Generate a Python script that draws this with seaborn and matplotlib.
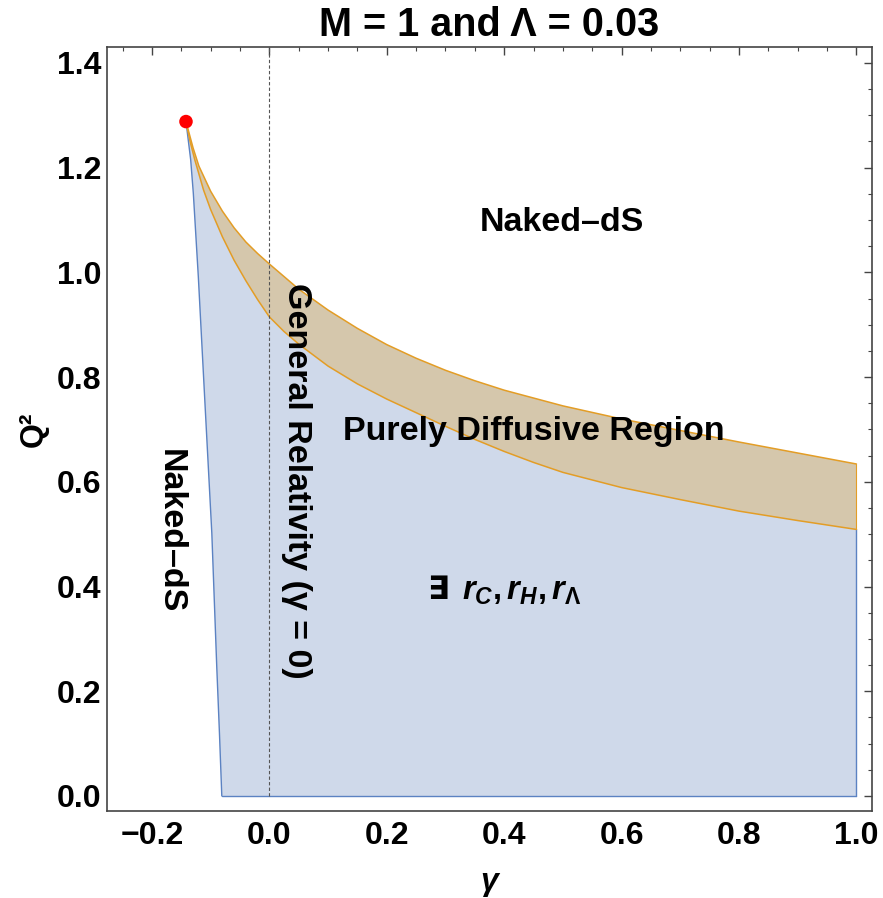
import numpy as np
import pandas as pd
import matplotlib
matplotlib.use("Agg")
import matplotlib.pyplot as plt
import seaborn as sns
from matplotlib.ticker import MultipleLocator

# ---- data ----
upper_gamma = [-0.142, -0.13, -0.12, -0.10, -0.08, -0.06, -0.04, -0.02, 0.0, 0.05, 0.10, 0.15,
               0.20, 0.25, 0.30, 0.35, 0.40, 0.50, 0.60, 0.70, 0.80, 0.90, 1.00]
upper_Q2 = [1.288, 1.238, 1.203, 1.155, 1.117, 1.085, 1.058, 1.036, 1.016, 0.968, 0.928, 0.893,
            0.862, 0.836, 0.813, 0.793, 0.775, 0.745, 0.720, 0.698, 0.676, 0.655, 0.634]

lower_gamma = [-0.142, -0.135, -0.127, -0.112, -0.10, -0.08, -0.06, -0.04, -0.02, 0.0, 0.025, 0.05,
               0.10, 0.15, 0.20, 0.25, 0.30, 0.35, 0.40, 0.45, 0.50, 0.60, 0.70, 0.80, 0.90, 1.00]
lower_Q2 = [1.288, 1.250, 1.215, 1.157, 1.120, 1.068, 1.023, 0.984, 0.948, 0.915, 0.887, 0.863,
            0.821, 0.787, 0.758, 0.732, 0.706, 0.681, 0.658, 0.637, 0.618, 0.589, 0.566, 0.544,
            0.526, 0.509]

left_gamma = [-0.142, -0.134, -0.1295, -0.121, -0.1095, -0.098, -0.0896, -0.085, -0.081]
left_Q2 = [1.288, 1.215, 1.151, 0.992, 0.746, 0.502, 0.247, 0.120, 0.0]

critical_gamma = [-0.142]
critical_Q2 = [1.288]

gamma_max = 1.0

x_ticks = [-0.2, 0.0, 0.2, 0.4, 0.6, 0.8, 1.0]
y_ticks = [0.0, 0.2, 0.4, 0.6, 0.8, 1.0, 1.2, 1.4]

# ---- styling ----
sns.set_theme(style="white")
plt.rcParams["font.family"] = ["Liberation Sans", "DejaVu Sans"]
plt.rcParams["font.weight"] = "bold"
plt.rcParams["text.color"] = "black"
plt.rcParams["axes.labelcolor"] = "black"
plt.rcParams["xtick.color"] = "black"
plt.rcParams["ytick.color"] = "black"
plt.rcParams["mathtext.fontset"] = "custom"
plt.rcParams["mathtext.rm"] = "Liberation Sans:bold"
plt.rcParams["mathtext.it"] = "Liberation Sans:italic:bold"
plt.rcParams["mathtext.bf"] = "Liberation Sans:bold"

blue_fill = "#CFD9EA"
tan_fill = "#D5C7AC"
blue_edge = "#5B82C2"
orange_edge = "#E39D26"

fig = plt.figure(figsize=(8.83, 8.98), dpi=100)
ax = fig.add_axes([0.1212, 0.0969, 0.8660, 0.8511])

# blue region polygon
bx = list(left_gamma) + [gamma_max] + list(lower_gamma[::-1])
by = list(left_Q2) + [0.0] + list(lower_Q2[::-1])
ax.fill(bx, by, color=blue_fill, lw=0, zorder=1)

# tan region polygon
tx = list(upper_gamma) + list(lower_gamma[::-1])
ty = list(upper_Q2) + list(lower_Q2[::-1])
ax.fill(tx, ty, color=tan_fill, lw=0, zorder=1)

# blue edges
df_left = pd.DataFrame({"gamma": left_gamma, "Q2": left_Q2})
sns.lineplot(data=df_left, x="gamma", y="Q2", sort=False, estimator=None,
             color=blue_edge, lw=1.0, ax=ax, zorder=2)
ax.plot([left_gamma[-1], gamma_max], [0.0, 0.0], color=blue_edge, lw=1.0, zorder=2)
ax.plot([gamma_max, gamma_max], [0.0, lower_Q2[-1]], color=blue_edge, lw=1.0, zorder=2)

# orange edges
df_up = pd.DataFrame({"gamma": upper_gamma, "Q2": upper_Q2})
df_lo = pd.DataFrame({"gamma": lower_gamma, "Q2": lower_Q2})
sns.lineplot(data=df_up, x="gamma", y="Q2", sort=False, estimator=None,
             color=orange_edge, lw=1.1, ax=ax, zorder=3)
sns.lineplot(data=df_lo, x="gamma", y="Q2", sort=False, estimator=None,
             color=orange_edge, lw=1.1, ax=ax, zorder=3)
ax.plot([gamma_max, gamma_max], [lower_Q2[-1], upper_Q2[-1]], color=orange_edge, lw=0.8, zorder=3)

# GR dashed line
ylim = (-0.0287, 1.431)
ax.vlines(0.0, 0.0, ylim[1], colors="#555555", linestyles=(0, (3, 2)), lw=0.8, zorder=4)

# critical point
sns.scatterplot(x=critical_gamma, y=critical_Q2, color="#FF0000", s=95,
                edgecolor="none", ax=ax, zorder=6)

ax.set_xlim(-0.2765, 1.026)
ax.set_ylim(*ylim)
ax.set_xticks(x_ticks)
ax.set_yticks(y_ticks)
ax.set_xticklabels([f"{v:.1f}".replace("-", "\u2212") for v in x_ticks])
ax.set_yticklabels([f"{v:.1f}" for v in y_ticks])
ax.xaxis.set_minor_locator(MultipleLocator(0.05))
ax.yaxis.set_minor_locator(MultipleLocator(0.05))
ax.tick_params(which="both", direction="in", top=True, right=True, color="#444444")
ax.tick_params(which="major", length=6, width=1.0, labelsize=23, pad=7)
ax.tick_params(which="minor", length=3, width=0.8)
ax.tick_params(axis="y", which="major", pad=4)
for lab in ax.get_xticklabels() + ax.get_yticklabels():
    lab.set_fontweight("bold")
for sp in ax.spines.values():
    sp.set_color("#444444")
    sp.set_linewidth(1.2)

ax.set_xlabel("\u03b3", fontsize=23, fontweight="bold", fontstyle="italic", labelpad=12)
ax.set_ylabel("Q\u00b2", fontsize=23, fontweight="bold", labelpad=6)
ax.set_title("M = 1 and \u039b = 0.03", fontsize=28.5, fontweight="bold", pad=8)

# annotations
ax.text(0.4986, 1.096, "Naked\u2013dS", fontsize=24.5, fontweight="bold", ha="center", va="center", zorder=7)
ax.text(0.450, 0.680, "Purely Diffusive Region", fontsize=24.5, fontweight="bold",
        ha="center", va="baseline", zorder=7)
ax.text(0.0455, 0.601, "General Relativity (\u03b3 = 0)", fontsize=24.5, fontweight="bold",
        rotation=-90, ha="center", va="center", zorder=7)
ax.text(-0.169, 0.506, "Naked\u2013dS", fontsize=24.5, fontweight="bold",
        rotation=-90, ha="center", va="center", zorder=7)
ax.text(0.287, 0.3755, "\u2203", fontsize=23, fontweight="bold", family="DejaVu Sans",
        ha="center", va="baseline", zorder=7)
ax.text(0.328, 0.3755, "$r_C,r_H,r_\\Lambda$", fontsize=23.5,
        ha="left", va="baseline", zorder=7)

fig.savefig("out.png", dpi=100)
